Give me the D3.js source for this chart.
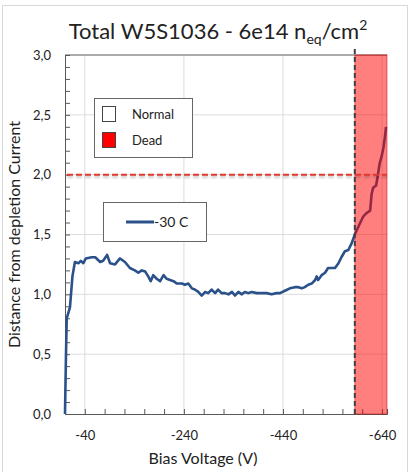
<!DOCTYPE html>
<html>
<head>
<meta charset="utf-8">
<script src="https://cdn.jsdelivr.net/npm/d3@7"></script>
<style>
  body { margin: 0; background: #fff; }
  svg text { font-family: Lato, "Open Sans", sans-serif; fill: #222; }
</style>
</head>
<body>
<div id="chart"></div>
<script>
// bias voltage (V) and distance from depletion current
const biasVoltage = [0, -2, -3.5, -10, -15, -20, -27, -32, -37, -42, -54, -61, -71, -77, -85, -91, -101, -111, -121, -131,
    -141, -148, -155, -162, -168, -173, -178, -185, -192, -199, -205, -212, -219, -226, -236, -242, -249, -256, -262, -269,
    -276, -283, -289, -296, -303, -309, -316, -323, -330, -337, -343, -350, -357, -363, -370, -377, -387, -397, -407, -417,
    -427, -434, -444, -454, -464, -471, -478, -484, -491, -498, -505, -508, -511, -518, -525, -531, -538, -545, -552, -558,
    -565, -572, -579, -585, -595, -602, -609, -616, -619, -622, -628, -631, -635, -639, -643, -646, -648];
const distance = [0.00, 0.50, 0.80, 0.89, 1.15, 1.27, 1.26, 1.28, 1.26, 1.30, 1.31, 1.31, 1.27, 1.28, 1.33, 1.26, 1.25, 1.30, 1.27, 1.22,
    1.20, 1.18, 1.20, 1.19, 1.15, 1.11, 1.16, 1.13, 1.11, 1.16, 1.13, 1.12, 1.11, 1.09, 1.09, 1.08, 1.09, 1.05, 1.04, 1.02,
    0.99, 1.02, 1.01, 1.04, 1.01, 1.04, 1.01, 1.01, 1.00, 1.02, 0.99, 1.02, 1.00, 1.02, 1.01, 1.02, 1.01, 1.01, 1.01, 1.00,
    1.01, 1.01, 1.03, 1.05, 1.06, 1.06, 1.05, 1.06, 1.08, 1.09, 1.12, 1.15, 1.12, 1.16, 1.18, 1.22, 1.22, 1.22, 1.26, 1.31,
    1.36, 1.37, 1.43, 1.50, 1.59, 1.65, 1.68, 1.70, 1.84, 1.89, 1.91, 1.98, 2.09, 2.15, 2.23, 2.32, 2.40];

const xDomain = [0, -650];
const yDomain = [0, 3];
const xTicks = d3.range(-40, -641, -40);
const xTickLabels = [-40, -240, -440, -640];
const yTicks = d3.range(0, 31).map(d => d / 10);
const yTickLabels = [0, 0.5, 1, 1.5, 2, 2.5, 3];

const deadStart = -585;   // start of the dead region
const threshold = 2.0;    // red dashed limit
const seriesName = "-30 C";
const legendItems = [{name: "Normal", color: "#ffffff"}, {name: "Dead", color: "#ff0000"}];

const W = 411, H = 472;
const margin = {left: 65, right: 24, top: 55, bottom: 58};

const svg = d3.select("#chart").append("svg")
    .attr("width", W)
    .attr("height", H);

const defs = svg.append("defs");
defs.append("filter").attr("id", "blur")
    .attr("filterUnits", "userSpaceOnUse")
    .attr("x", 0).attr("y", 0).attr("width", W).attr("height", H)
    .append("feGaussianBlur").attr("stdDeviation", 1);

// outer chart border
svg.append("rect")
    .attr("x", 2.5).attr("y", 5.5)
    .attr("width", 405).attr("height", 470)
    .attr("fill", "none")
    .attr("stroke", "#d9d9d9");

const x = d3.scaleLinear().domain(xDomain).range([margin.left, W - margin.right]);
const y = d3.scaleLinear().domain(yDomain).range([H - margin.bottom, margin.top]);

// gridlines
svg.append("g").selectAll("line")
    .data(yTickLabels.slice(1, -1))
    .enter().append("line")
        .attr("x1", x(xDomain[0])).attr("x2", x(xDomain[1]))
        .attr("y1", d => y(d)).attr("y2", d => y(d))
        .attr("stroke", "#dcdcdc");

svg.append("g").selectAll("line")
    .data(xTickLabels)
    .enter().append("line")
        .attr("x1", d => x(d)).attr("x2", d => x(d))
        .attr("y1", y(yDomain[0])).attr("y2", y(yDomain[1]))
        .attr("stroke", "#dcdcdc");

// top border of plot area
svg.append("line")
    .attr("x1", x(xDomain[0])).attr("x2", x(xDomain[1]))
    .attr("y1", y(yDomain[1])).attr("y2", y(yDomain[1]))
    .attr("stroke", "#595959");

// axes
const fmt = d3.format(".1f");
const xAxis = d3.axisBottom(x)
    .tickValues(xTicks)
    .tickSize(-5)
    .tickPadding(14)
    .tickFormat(d => xTickLabels.includes(d) ? d : "");

const yAxis = d3.axisLeft(y)
    .tickValues(yTicks)
    .tickSize(-5)
    .tickPadding(14)
    .tickFormat(d => yTickLabels.some(v => Math.abs(v - d) < 1e-9) ? fmt(d).replace(".", ",") : "");

const gx = svg.append("g")
    .attr("transform", `translate(0,${y(0)})`)
    .call(xAxis);
const gy = svg.append("g")
    .attr("transform", `translate(${x(0)},0)`)
    .call(yAxis);

[gx, gy].forEach(g => {
    g.select(".domain").attr("stroke", "#595959");
    g.selectAll(".tick line").attr("stroke", "#595959");
    g.selectAll(".tick text")
        .attr("font-size", 13)
        .attr("font-family", "Lato, sans-serif")
        .attr("fill", "#333");
});
gx.selectAll(".tick text").attr("dy", "0.95em");

// the curve
const points = biasVoltage.map((v, i) => ({v, d: distance[i]}));
const line = d3.line()
    .x(p => x(p.v))
    .y(p => y(p.d));

svg.append("path")
    .datum(points)
    .attr("d", line)
    .attr("fill", "none")
    .attr("stroke", "#2a5189")
    .attr("stroke-width", 2.6)
    .attr("stroke-linejoin", "round");

// dead region
svg.append("rect")
    .attr("x", x(deadStart))
    .attr("y", y(yDomain[1]))
    .attr("width", x(xDomain[1]) - x(deadStart))
    .attr("height", y(yDomain[0]) - y(yDomain[1]))
    .attr("fill", "#ff0000")
    .attr("fill-opacity", 0.5)
    .attr("stroke", "#c00000")
    .attr("stroke-opacity", 0.5);

// threshold line, with a soft shadow under it
svg.append("line")
    .attr("x1", x(xDomain[0]) + 2).attr("x2", x(xDomain[1]))
    .attr("y1", y(threshold) + 2).attr("y2", y(threshold) + 2)
    .attr("stroke", "#000")
    .attr("stroke-opacity", 0.25)
    .attr("stroke-width", 2)
    .attr("stroke-dasharray", "6,3")
    .attr("filter", "url(#blur)");
svg.append("line")
    .attr("x1", x(xDomain[0]) + 2).attr("x2", x(xDomain[1]))
    .attr("y1", y(threshold)).attr("y2", y(threshold))
    .attr("stroke", "#e03a30")
    .attr("stroke-width", 2)
    .attr("stroke-dasharray", "6,3");

// dead region boundary
svg.append("line")
    .attr("x1", x(deadStart)).attr("x2", x(deadStart))
    .attr("y1", y(yDomain[1]) - 6).attr("y2", y(yDomain[0]))
    .attr("stroke", "#404040")
    .attr("stroke-width", 2)
    .attr("stroke-dasharray", "5,3");

// legend: normal / dead
const leg1 = svg.append("g").attr("transform", "translate(94,98)");
leg1.append("rect")
    .attr("x", 0.5).attr("y", 0.5)
    .attr("width", 98).attr("height", 59)
    .attr("fill", "#fff")
    .attr("stroke", "#666");
legendItems.forEach((item, i) => {
    leg1.append("rect")
        .attr("x", 8.5).attr("y", 8.5 + i * 26)
        .attr("width", 13).attr("height", 15)
        .attr("fill", item.color)
        .attr("stroke", "#444");
    leg1.append("text")
        .attr("x", 38).attr("y", 16 + i * 26)
        .attr("dy", "0.35em")
        .attr("font-size", 13)
        .text(item.name);
});

// legend: series
const leg2 = svg.append("g").attr("transform", "translate(103,202)");
leg2.append("rect")
    .attr("x", 0.5).attr("y", 0.5)
    .attr("width", 103).attr("height", 39)
    .attr("fill", "#fff")
    .attr("stroke", "#666");
leg2.append("line")
    .attr("x1", 23).attr("x2", 51)
    .attr("y1", 20).attr("y2", 20)
    .attr("stroke", "#2a5189")
    .attr("stroke-width", 3);
leg2.append("text")
    .attr("x", 51).attr("y", 20)
    .attr("dy", "0.35em")
    .attr("font-size", 14)
    .text(seriesName);

// titles
const title = svg.append("text")
    .attr("x", 218).attr("y", 39)
    .attr("text-anchor", "middle")
    .attr("font-size", 22);
title.append("tspan").text("Total W5S1036 - 6e14 n");
title.append("tspan").attr("font-size", 14).attr("dy", 5).text("eq");
title.append("tspan").attr("dy", -5).text("/cm");
title.append("tspan").attr("font-size", 14).attr("dy", -9).text("2");

svg.append("text")
    .attr("x", 203).attr("y", 464)
    .attr("text-anchor", "middle")
    .attr("font-size", 16)
    .text("Bias Voltage (V)");

svg.append("text")
    .attr("transform", `translate(20,${(y(0) + y(3)) / 2}) rotate(-90)`)
    .attr("text-anchor", "middle")
    .attr("font-size", 16)
    .text("Distance from depletion Current");
</script>
</body>
</html>
